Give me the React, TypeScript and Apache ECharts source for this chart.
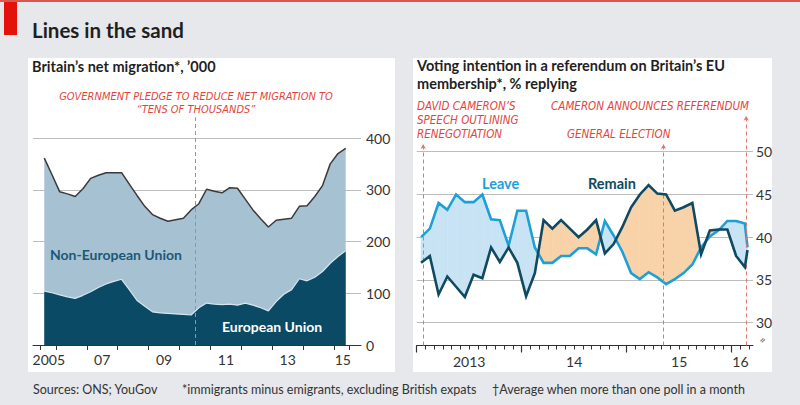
import React, { useEffect, useRef } from 'react';
import * as echarts from 'echarts';

// ---------- Left panel: Britain's net migration, '000 (quarterly, rolling year) ----------
const migPeriods = [
  2005.625, 2005.875, 2006.125, 2006.375, 2006.625, 2006.875, 2007.125, 2007.375, 2007.625, 2007.875,
  2008.125, 2008.375, 2008.625, 2008.875, 2009.125, 2009.375, 2009.625, 2009.875, 2010.125, 2010.375,
  2010.625, 2010.875, 2011.125, 2011.375, 2011.625, 2011.875, 2012.125, 2012.375, 2012.625, 2012.875,
  2013.125, 2013.375, 2013.625, 2013.875, 2014.125, 2014.375, 2014.625, 2014.875, 2015.125, 2015.375,
];
const totalNet = [
  361, 329, 296, 292, 287, 302, 322, 328, 333, 333,
  333, 311, 289, 268, 252, 245, 239, 242, 245, 261,
  273, 301, 297, 294, 304, 303, 282, 261, 244, 228,
  241, 243, 245, 268, 269, 287, 308, 350, 370, 380,
];
const euNet = [
  104, 101, 97, 93, 90, 96, 103, 111, 118, 123,
  127, 107, 86, 75, 64, 62, 61, 60, 59, 58,
  72, 81, 79, 78, 79, 77, 81, 77, 72, 66,
  84, 98, 107, 128, 124, 131, 142, 158, 171, 182,
];
const migYTicks = [0, 100, 200, 300, 400];
const migXTicks = [2005.5, 2006, 2007, 2008, 2009, 2010, 2011, 2012, 2013, 2014, 2015, 2015.5];
const migXLabelPos = [2005.77, 2007.5, 2009.5, 2011.5, 2013.5, 2015.28];
const migXLabels = ['2005', '07', '09', '11', '13', '15'];
const pledgeYear = 2010.52;

// ---------- Right panel: referendum voting intention, % (months since Jan 2013) ----------
const pollMonths = [
  0.5, 1.5, 2.5, 3.5, 4.5, 5.5, 6.5, 7.5, 8.5, 9.5,
  10.5, 11.5, 12.5, 13.5, 14.5, 15.5, 16.5, 17.5, 18.5, 19.5,
  20.5, 21.5, 22.5, 23.5, 24.5, 25.5, 26.5, 27.5, 28.5, 29.5,
  30.5, 31.5, 32.5, 33.5, 34.5, 35.5, 36.5, 37.5, 37.8,
];
const leave = [
  40.0, 41.0, 44.0, 43.2, 45.0, 44.1, 44.1, 45.0, 42.1, 42.0,
  39.0, 43.1, 43.1, 38.8, 37.0, 37.0, 37.8, 37.8, 38.7, 38.7,
  38.0, 41.9, 40.2, 38.3, 35.8, 35.1, 35.9, 35.3, 34.5, 35.1,
  35.8, 36.8, 38.8, 40.1, 40.8, 41.9, 41.9, 41.6, 38.8,
];
const remain = [
  37.0, 37.8, 33.3, 35.4, 34.2, 33.0, 35.6, 35.2, 38.8, 37.1,
  38.8, 37.0, 33.1, 35.8, 42.0, 41.0, 42.0, 41.0, 40.0, 40.9,
  42.0, 38.1, 39.2, 41.2, 43.5, 45.0, 46.1, 45.1, 45.0, 43.1,
  43.5, 44.0, 38.0, 40.8, 40.9, 40.9, 37.8, 36.5, 38.5,
];
const pollYTicks = [30, 35, 40, 45, 50];
const pollMajorTicks = [0, 12, 24, 36];
const pollYearLabelPos = [6, 18, 30, 37];
const pollYearLabels = ['2013', '14', '15', '16'];
const eventMonths = [0.74, 28.2, 37.65];
const eventTops = [50.9, 50.9, 54.2];

// ---------- style ----------
const FONT = "Lato, 'Noto Sans', sans-serif";
const NARROW = "'Liberation Sans Narrow', 'DejaVu Sans Condensed', Lato, sans-serif";
const RED = '#e2453b';
const DASH_RED = '#e0776e';
const GRID = '#bdbdbd';
const AXIS = '#333';
const EU_DARK = '#0b4a64';
const NONEU_LIGHT = '#a6c1d2';
const LEAVE_C = '#1d9fd8';
const REMAIN_C = '#0f4a62';
const LEAVE_FILL = '#c8e4f4';
const REMAIN_FILL = '#f8d2a8';

const findLabel = (pos: number[], labels: string[]) => (v: number) => {
  const i = pos.findIndex((p) => Math.abs(p - v) < 1e-6);
  return i >= 0 ? labels[i] : '';
};

const txt = (text: string, x: number, y: number, font: string, fill: string, align = 'left', z = 10, rotation = 0) => ({
  type: 'text',
  x,
  y,
  z,
  rotation,
  silent: true,
  style: { text, font, fill, textAlign: align, textVerticalAlign: 'middle' },
});

export default function App() {
  const ref = useRef<HTMLDivElement>(null);

  useEffect(() => {
    if (!ref.current) return;
    const chart = echarts.init(ref.current, undefined, { renderer: 'svg' });

    const migTotal = migPeriods.map((x, i) => [x, totalNet[i]]);
    const migEu = migPeriods.map((x, i) => [x, euNet[i]]);
    const leaveData = pollMonths.map((x, i) => [x, leave[i]]);
    const remainData = pollMonths.map((x, i) => [x, remain[i]]);
    const segments = pollMonths.slice(0, -1).map((x, i) => [
      x, leave[i], remain[i], pollMonths[i + 1], leave[i + 1], remain[i + 1],
    ]);
    const monthTicks = Array.from({ length: 39 }, (_, i) => i);

    const option: any = {
      animation: false,
      backgroundColor: '#e6e8eb',
      textStyle: { fontFamily: FONT },
      grid: [
        { left: 33, top: 117.3, width: 328, height: 227.7, outerBoundsMode: 'none' },
        { left: 416.7, top: 114.1, width: 336.3, height: 231.4, outerBoundsMode: 'none' },
      ],
      xAxis: [
        {
          type: 'value', gridIndex: 0, position: 'bottom', min: 2005.26, max: 2015.87,
          axisLine: { show: true, lineStyle: { color: AXIS, width: 1 } },
          axisTick: { show: true, length: 5, customValues: migXTicks, lineStyle: { color: AXIS } },
          axisLabel: {
            show: true, customValues: migXLabelPos, formatter: findLabel(migXLabelPos, migXLabels),
            color: AXIS, fontFamily: FONT, fontSize: 14, margin: 7,
          },
          splitLine: { show: false },
        },
        {
          type: 'value', gridIndex: 1, position: 'bottom', min: 0, max: 38.43,
          axisLine: { show: true, lineStyle: { color: AXIS, width: 1 } },
          axisTick: { show: true, length: 4, customValues: monthTicks, lineStyle: { color: AXIS } },
          axisLabel: { show: false },
          splitLine: { show: false },
        },
        {
          type: 'value', gridIndex: 1, position: 'bottom', min: 0, max: 38.43,
          axisLine: { show: false },
          axisTick: { show: true, length: 7, customValues: pollMajorTicks, lineStyle: { color: AXIS, width: 1.2 } },
          axisLabel: {
            show: true, customValues: pollYearLabelPos, formatter: findLabel(pollYearLabelPos, pollYearLabels),
            color: AXIS, fontFamily: FONT, fontSize: 14, margin: 9,
          },
          splitLine: { show: false },
        },
      ],
      yAxis: [
        {
          type: 'value', gridIndex: 0, position: 'right', min: 0, max: 440,
          axisLine: { show: false },
          axisTick: { show: false, customValues: migYTicks },
          axisLabel: { customValues: migYTicks, color: AXIS, fontFamily: FONT, fontSize: 14, margin: 5 },
          splitLine: { show: true, lineStyle: { color: GRID, width: 1 } },
        },
        {
          type: 'value', gridIndex: 1, position: 'right', min: 27.33, max: 54.4,
          axisLine: { show: false },
          axisTick: { show: false, customValues: pollYTicks },
          axisLabel: { customValues: pollYTicks, color: AXIS, fontFamily: FONT, fontSize: 14, margin: 3 },
          splitLine: { show: true, lineStyle: { color: GRID, width: 1 } },
        },
      ],
      series: [
        {
          name: 'Total', type: 'line', xAxisIndex: 0, yAxisIndex: 0, data: migTotal,
          symbol: 'none', z: 2,
          lineStyle: { color: '#3a3a3a', width: 1.5 },
          areaStyle: { color: NONEU_LIGHT, opacity: 1 },
          markLine: {
            silent: true, symbol: ['none', 'none'], label: { show: false },
            lineStyle: { color: DASH_RED, type: [4, 3], width: 1 },
            data: [[{ coord: [pledgeYear, 0] }, { coord: [pledgeYear, 440] }]],
          },
        },
        {
          name: 'European Union', type: 'line', xAxisIndex: 0, yAxisIndex: 0, data: migEu,
          symbol: 'none', z: 3,
          lineStyle: { color: '#d6e6ef', width: 1.2 },
          areaStyle: { color: EU_DARK, opacity: 1 },
        },
        {
          name: 'Gap', type: 'custom', xAxisIndex: 1, yAxisIndex: 1, data: segments, z: 1,
          encode: { x: [0, 3], y: [1, 2, 4, 5] },
          renderItem: (params: any, api: any) => {
            const x0 = api.value(0), l0 = api.value(1), r0 = api.value(2);
            const x1 = api.value(3), l1 = api.value(4), r1 = api.value(5);
            const d0 = l0 - r0, d1 = l1 - r1;
            const col = (d: number) => (d > 0 ? LEAVE_FILL : REMAIN_FILL);
            const mk = (pts: number[][], d: number) => ({
              type: 'polygon',
              shape: { points: pts.map((p) => api.coord(p)) },
              style: { fill: col(d), stroke: col(d), lineWidth: 0.6 },
            });
            const children: any[] = [];
            if (d0 * d1 >= 0) {
              children.push(mk([[x0, l0], [x1, l1], [x1, r1], [x0, r0]], d0 + d1));
            } else {
              const t = d0 / (d0 - d1);
              const xc = x0 + t * (x1 - x0);
              const yc = l0 + t * (l1 - l0);
              children.push(mk([[x0, l0], [xc, yc], [x0, r0]], d0));
              children.push(mk([[xc, yc], [x1, l1], [x1, r1]], d1));
            }
            return { type: 'group', children };
          },
        },
        {
          name: 'Leave', type: 'line', xAxisIndex: 1, yAxisIndex: 1, data: leaveData,
          symbol: 'none', z: 4,
          lineStyle: { color: LEAVE_C, width: 2.6, join: 'miter' },
          markLine: {
            silent: true, symbol: ['none', 'arrow'], symbolSize: [4, 5], label: { show: false },
            lineStyle: { color: DASH_RED, type: [4, 3], width: 1 },
            data: eventMonths.map((m, i) => [{ coord: [m, 27.33] }, { coord: [m, eventTops[i]] }]),
          },
        },
        {
          name: 'Remain', type: 'line', xAxisIndex: 1, yAxisIndex: 1, data: remainData,
          symbol: 'none', z: 5,
          lineStyle: { color: REMAIN_C, width: 2.6, join: 'miter' },
        },
      ],
      graphic: [
        { type: 'rect', z: -20, silent: true, shape: { x: 0, y: 0, width: 800, height: 2 }, style: { fill: '#d8584f' } },
        { type: 'rect', z: -20, silent: true, shape: { x: 4, y: 2, width: 13, height: 33 }, style: { fill: '#e3120b' } },
        { type: 'rect', z: -20, silent: true, shape: { x: 28, y: 58, width: 367, height: 314 }, style: { fill: '#ffffff' } },
        { type: 'rect', z: -20, silent: true, shape: { x: 413, y: 58, width: 359, height: 314 }, style: { fill: '#ffffff' } },
        txt('Lines in the sand', 32, 30, `bold 20.5px ${FONT}`, '#1f1f1f'),
        txt('Britain\u2019s net migration*, \u2019000', 32, 66, `bold 14.5px ${FONT}`, '#1f1f1f'),
        txt('Voting intention in a referendum on Britain\u2019s EU', 417, 65.5, `bold 14.5px ${FONT}`, '#1f1f1f'),
        txt('membership*, % replying', 417, 83.5, `bold 14.5px ${FONT}`, '#1f1f1f'),
        txt('GOVERNMENT PLEDGE TO REDUCE NET MIGRATION TO', 196, 96, `italic 11px ${NARROW}`, RED, 'center'),
        txt('\u201CTENS OF THOUSANDS\u201D', 196, 109, `italic 11px ${NARROW}`, RED, 'center'),
        txt('DAVID CAMERON\u2019S', 417, 106, `italic 11.5px ${NARROW}`, RED),
        txt('SPEECH OUTLINING', 417, 120, `italic 11.5px ${NARROW}`, RED),
        txt('RENEGOTIATION', 417, 134, `italic 11.5px ${NARROW}`, RED),
        txt('CAMERON ANNOUNCES REFERENDUM', 749, 106, `italic 11.5px ${NARROW}`, RED, 'right'),
        txt('GENERAL ELECTION', 567, 134, `italic 11.5px ${NARROW}`, RED),
        txt('Non-European Union', 50, 254, `bold 14px ${FONT}`, '#1d5877'),
        txt('European Union', 222, 326, `bold 14px ${FONT}`, '#ffffff'),
        txt('Leave', 482, 183, `bold 14.5px ${FONT}`, LEAVE_C),
        txt('Remain', 588, 183, `bold 14.5px ${FONT}`, REMAIN_C),
        txt('\u2248', 762, 340, `11px ${FONT}`, '#555', 'center', 10, 1.0),
        txt('Sources: ONS; YouGov', 33, 389, `12.5px ${FONT}`, '#333'),
        txt('*immigrants minus emigrants, excluding British expats', 182, 389, `12.5px ${FONT}`, '#333'),
        txt('\u2020Average when more than one poll in a month', 492, 389, `12.5px ${FONT}`, '#333'),
      ],
    };

    chart.setOption(option);
    return () => chart.dispose();
  }, []);

  return <div ref={ref} style={{ position: 'fixed', left: 0, top: 0, width: 800, height: 405 }} />;
}
